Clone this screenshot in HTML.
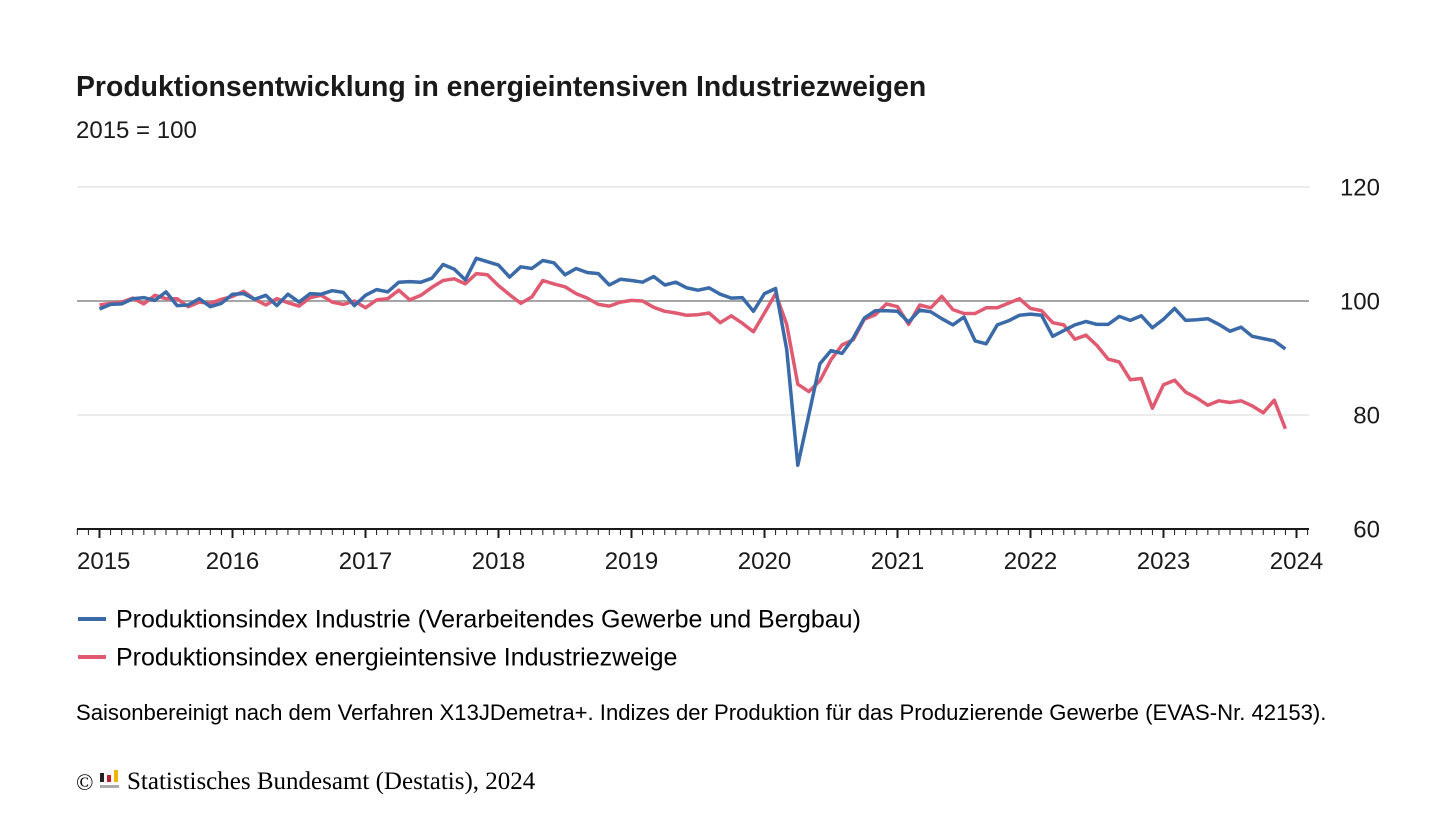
<!DOCTYPE html>
<html><head><meta charset="utf-8"><style>
body{margin:0;background:#fff;width:1456px;height:819px;overflow:hidden;font-family:"Liberation Sans",sans-serif;color:#1a1a1a}
</style></head><body>
<svg width="1456" height="819" xmlns="http://www.w3.org/2000/svg" id="svg">
<text x="76" y="96" font-size="28.4" font-weight="bold" fill="#1a1a1a">Produktionsentwicklung in energieintensiven Industriezweigen</text>
<text x="76" y="138" font-size="24" fill="#1a1a1a">2015 = 100</text>
<g id="grid"></g>
<g id="xaxis"></g>
<g id="series"></g>
<line x1="78" y1="619" x2="106" y2="619" stroke="#3b6aa8" stroke-width="4"/>
<text x="116" y="627.5" font-size="25">Produktionsindex Industrie (Verarbeitendes Gewerbe und Bergbau)</text>
<line x1="78" y1="657" x2="106" y2="657" stroke="#e05a71" stroke-width="4"/>
<text x="116" y="665.5" font-size="25">Produktionsindex energieintensive Industriezweige</text>
<text x="76" y="720" font-size="22.1">Saisonbereinigt nach dem Verfahren X13JDemetra+. Indizes der Produktion für das Produzierende Gewerbe (EVAS-Nr. 42153).</text>
<g>
<text x="76" y="790" font-size="23" font-family="Liberation Serif, serif">©</text>
<rect x="100" y="773" width="4" height="9" fill="#222"/><rect x="107" y="775" width="4" height="7" fill="#c0202a"/><rect x="114" y="770" width="4" height="12" fill="#f0b400"/><rect x="100" y="785" width="19" height="3" fill="#aaa"/>
<text x="127" y="789" font-size="25" font-family="Liberation Serif, serif">Statistisches Bundesamt (Destatis), 2024</text>
</g>
</svg>
<script>
const yTicks=[60,80,100,120];
const yearLabels=["2015","2016","2017","2018","2019","2020","2021","2022","2023","2024"];
const industrie=[98.6,99.4,99.5,100.4,100.6,100.1,101.6,99.2,99.3,100.4,99.0,99.6,
101.2,101.3,100.3,101.0,99.2,101.2,99.8,101.3,101.2,101.8,101.5,99.2,
101.0,102.0,101.6,103.3,103.4,103.3,104.0,106.4,105.6,103.7,107.5,106.9,
106.3,104.2,106.0,105.7,107.1,106.7,104.6,105.7,105.0,104.8,102.8,103.8,
103.6,103.3,104.3,102.8,103.3,102.3,101.9,102.3,101.2,100.5,100.6,98.2,
101.3,102.2,91.5,71.2,80.0,89.0,91.3,90.8,93.5,97.0,98.3,98.3,
98.2,96.3,98.4,98.1,96.9,95.8,97.2,93.0,92.5,95.8,96.5,97.5,
97.7,97.5,93.8,94.8,95.8,96.4,95.9,95.9,97.3,96.6,97.4,95.3,
96.8,98.7,96.6,96.7,96.9,95.9,94.7,95.4,93.8,93.4,93.0,91.6];
const energie=[99.3,99.6,99.8,100.5,99.5,101.0,100.4,100.4,99.0,99.8,99.6,100.3,
100.8,101.7,100.3,99.3,100.4,99.7,99.1,100.6,101.0,99.8,99.4,100.0,
98.8,100.2,100.4,101.9,100.2,101.0,102.4,103.6,103.9,103.0,104.8,104.6,
102.7,101.1,99.6,100.7,103.6,103.0,102.5,101.3,100.5,99.4,99.1,99.8,
100.1,100.0,98.9,98.2,97.9,97.5,97.6,97.9,96.2,97.4,96.1,94.6,
97.9,101.3,95.9,85.4,84.1,86.0,89.7,92.3,93.2,96.8,97.6,99.5,
99.0,95.9,99.3,98.8,100.8,98.5,97.8,97.8,98.8,98.8,99.6,100.4,
98.7,98.3,96.2,95.8,93.3,94.0,92.2,89.8,89.3,86.2,86.4,81.2,
85.3,86.1,84.0,83.0,81.7,82.5,82.2,82.5,81.6,80.4,82.6,77.6];
const NS="http://www.w3.org/2000/svg";
const yS=v=>301-(v-100)*5.7;
const xS=m=>99.5+m*(133/12);
function mk(t,a,p){const e=document.createElementNS(NS,t);for(const k in a)e.setAttribute(k,a[k]);p.appendChild(e);return e;}
const grid=document.getElementById('grid');
yTicks.forEach(v=>{
 if(v>60){const l=mk('line',{x1:77,x2:1309,y1:yS(v),y2:yS(v),stroke:v===100?'#a6a6a6':'#d9d9d9','stroke-width':v===100?2:1},grid);
 
 }
 const t=mk('text',{x:1380,y:yS(v)+8.5,'font-size':24,'text-anchor':'end',fill:'#1a1a1a'},grid);t.textContent=v;
 
 
});
const xa=document.getElementById('xaxis');
const ax=mk('line',{x1:77,x2:1309,y1:529,y2:529,stroke:'#1a1a1a','stroke-width':2},xa);


for(let m=-2;m<=109;m++){const x=xS(m);if(x<77||x>1309)continue;const major=m%12===0;
 mk('line',{x1:x,x2:x,y1:529,y2:major?538:535,stroke:'#1a1a1a','stroke-width':major?2:1},xa);}
yearLabels.forEach((y,i)=>{const x=xS(i*12);
 const t=mk('text',{x:i===0?77:x,y:569,'font-size':24,'text-anchor':i===0?'start':'middle',fill:'#1a1a1a'},xa);t.textContent=y;
 
 });
const sg=document.getElementById('series');
[[energie,'#e05a71','line-energieintensiv'],[industrie,'#3b6aa8','line-industrie']].forEach(([d,c,n])=>{
 const p=mk('polyline',{points:d.map((v,i)=>xS(i).toFixed(1)+','+yS(v).toFixed(1)).join(' '),fill:'none',stroke:c,'stroke-width':3.5,'stroke-linejoin':'round'},sg);
 
 
});
</script>
</body></html>
